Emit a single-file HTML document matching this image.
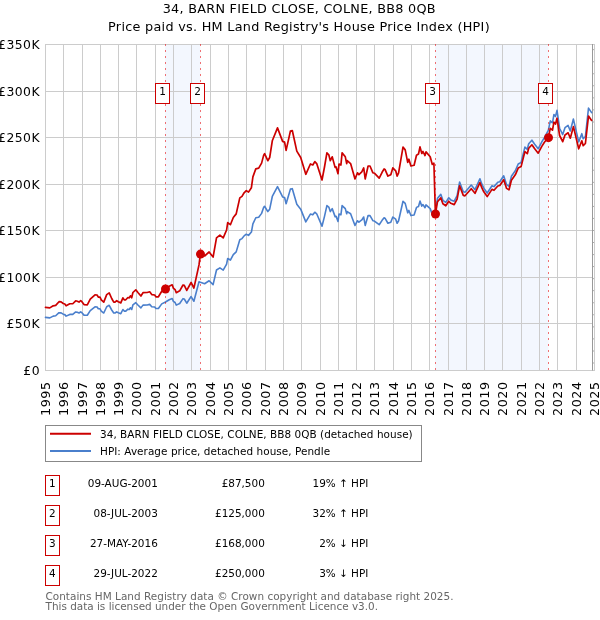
<!DOCTYPE html>
<html><head><meta charset="utf-8"><title>34, Barn Field Close, Colne - Price paid vs HPI</title>
<style>
html,body{margin:0;padding:0;background:#fff;width:600px;height:620px;overflow:hidden}
svg{display:block;font-family:"DejaVu Sans","Liberation Sans",sans-serif}
</style></head><body>
<svg width="600" height="620" viewBox="0 0 600 620">
<rect x="0" y="0" width="600" height="620" fill="#ffffff"/>
<rect x="165" y="44" width="35.5" height="326.5" fill="#f3f7fe"/>
<rect x="435" y="44" width="113.5" height="326.5" fill="#f3f7fe"/>
<path d="M45.5,44 V370.5 M63.5,44 V370.5 M82.5,44 V370.5 M100.5,44 V370.5 M118.5,44 V370.5 M136.5,44 V370.5 M155.5,44 V370.5 M173.5,44 V370.5 M191.5,44 V370.5 M210.5,44 V370.5 M228.5,44 V370.5 M246.5,44 V370.5 M265.5,44 V370.5 M283.5,44 V370.5 M301.5,44 V370.5 M320.5,44 V370.5 M338.5,44 V370.5 M356.5,44 V370.5 M374.5,44 V370.5 M393.5,44 V370.5 M411.5,44 V370.5 M429.5,44 V370.5 M448.5,44 V370.5 M466.5,44 V370.5 M484.5,44 V370.5 M502.5,44 V370.5 M521.5,44 V370.5 M539.5,44 V370.5 M557.5,44 V370.5 M576.5,44 V370.5 M594.5,44 V370.5 M45,44.5 H595 M45,91.5 H595 M45,137.5 H595 M45,184.5 H595 M45,230.5 H595 M45,277.5 H595 M45,323.5 H595 M45,370.5 H595" stroke="#cccccc" stroke-width="1" fill="none"/>
<rect x="592" y="45" width="2.5" height="325" fill="#ffffff"/>
<path d="M592.5,50.7 L594.5,48.7 M592.5,62.8 L594.5,60.8 M592.5,74.8 L594.5,72.8 M592.5,86.8 L594.5,84.8 M592.5,98.9 L594.5,96.9 M592.5,110.9 L594.5,108.9 M592.5,123.0 L594.5,121.0 M592.5,135.0 L594.5,133.0 M592.5,147.1 L594.5,145.1 M592.5,159.2 L594.5,157.2 M592.5,171.2 L594.5,169.2 M592.5,183.3 L594.5,181.3 M592.5,195.3 L594.5,193.3 M592.5,207.4 L594.5,205.4 M592.5,219.4 L594.5,217.4 M592.5,231.5 L594.5,229.5 M592.5,243.5 L594.5,241.5 M592.5,255.6 L594.5,253.6 M592.5,267.6 L594.5,265.6 M592.5,279.7 L594.5,277.7 M592.5,291.7 L594.5,289.7 M592.5,303.8 L594.5,301.8 M592.5,315.8 L594.5,313.8 M592.5,327.9 L594.5,325.9 M592.5,339.9 L594.5,337.9 M592.5,352.0 L594.5,350.0 M592.5,364.0 L594.5,362.0" stroke="#aaaaaa" stroke-width="1" fill="none"/>
<path d="M592.5,44 V370.5" stroke="#999999" stroke-width="1" fill="none"/>
<path d="M594.5,44 V370.5" stroke="#cccccc" stroke-width="1" fill="none"/>
<path d="M45.50,317.39 L49.80,317.89 L53.20,316.13 L55.70,315.79 L59.00,312.68 L61.10,312.85 L63.20,314.20 L64.80,314.62 L66.10,316.13 L69.80,314.41 L72.75,314.41 L75.70,311.93 L77.30,312.31 L79.00,313.02 L80.70,311.84 L81.90,312.68 L84.00,315.12 L87.30,315.29 L90.25,310.58 L95.00,306.89 L97.10,307.05 L98.30,308.82 L100.00,308.82 L101.25,311.09 L103.75,313.02 L106.70,306.72 L109.20,305.29 L111.70,310.00 L113.75,313.02 L115.00,313.02 L116.70,311.84 L118.30,312.77 L120.80,313.69 L122.90,309.49 L124.20,311.09 L125.80,311.09 L127.90,309.16 L129.20,309.49 L130.40,307.73 L131.70,309.49 L132.90,304.95 L135.80,302.68 L137.90,304.95 L140.90,307.89 L143.00,305.12 L147.20,304.95 L149.70,304.37 L151.75,306.72 L154.70,307.05 L155.90,308.57 L158.40,308.57 L161.75,303.90 L165.50,302.01 L169.25,299.70 L172.20,298.48 L173.40,301.42 L175.10,302.52 L176.30,305.12 L179.70,303.53 L183.00,298.65 L184.25,298.99 L186.75,303.19 L191.10,296.55 L193.90,301.26 L199.00,281.76 L200.40,282.32 L204.60,283.76 L209.10,280.73 L213.10,284.59 L216.50,270.05 L219.90,267.92 L223.20,270.05 L226.60,264.06 L227.70,258.45 L230.40,260.05 L233.30,254.59 L236.20,251.86 L239.80,239.74 L242.00,238.61 L244.10,235.88 L246.30,234.21 L248.50,235.35 L251.40,232.02 L252.90,223.83 L255.80,217.77 L258.70,217.17 L261.60,213.38 L263.70,207.32 L264.60,206.26 L267.80,211.56 L269.70,209.14 L272.30,196.48 L277.50,186.71 L282.60,196.94 L284.60,197.47 L286.10,203.76 L288.40,195.95 L290.40,189.14 L292.30,188.68 L296.80,204.29 L300.70,209.14 L305.80,221.86 L310.40,214.06 L312.80,214.82 L314.80,212.24 L316.70,213.76 L322.00,226.18 L324.50,216.33 L326.90,205.65 L328.80,207.09 L330.30,211.56 L332.20,208.61 L335.10,216.64 L336.10,216.33 L338.00,221.41 L339.00,214.06 L340.90,214.82 L342.10,205.65 L345.30,208.61 L346.70,213.76 L347.20,211.56 L350.60,213.76 L355.00,225.42 L357.50,220.73 L358.90,222.17 L361.80,219.97 L363.70,217.02 L365.20,225.42 L368.10,215.58 L370.00,215.58 L372.90,220.73 L374.40,221.03 L379.20,224.74 L382.10,220.35 L384.10,217.77 L385.00,218.15 L387.90,223.23 L390.80,222.17 L392.80,217.02 L395.70,219.21 L397.10,223.23 L398.60,220.73 L403.00,201.26 L405.20,203.38 L407.70,212.85 L408.90,210.42 L410.90,215.58 L414.10,214.97 L416.50,207.39 L418.50,206.48 L420.00,201.11 L421.80,206.11 L423.00,204.59 L425.00,207.70 L426.00,204.89 L430.20,208.61 L432.30,214.36 L433.90,213.45 L435.40,210.81 L437.50,198.26 L440.80,194.38 L442.90,200.35 L445.80,202.44 L448.75,197.80 L450.80,199.89 L454.20,201.21 L457.10,195.70 L459.60,182.03 L463.30,191.83 L465.00,192.23 L471.25,185.04 L475.00,189.68 L479.90,178.77 L481.90,184.17 L483.80,188.15 L487.20,193.05 L492.00,185.70 L494.00,186.62 L497.80,182.23 L499.80,181.72 L503.70,175.81 L506.60,184.68 L509.00,186.21 L511.40,176.32 L515.30,170.81 L518.20,163.97 L521.10,162.44 L524.90,147.13 L527.30,149.28 L528.70,143.77 L531.90,140.19 L534.50,143.97 L538.20,148.77 L541.80,141.83 L544.40,137.54 L548.30,130.45 L550.30,120.91 L552.50,122.77 L553.90,114.52 L555.50,116.38 L557.00,110.40 L559.60,128.23 L562.70,134.62 L565.00,127.72 L568.10,125.45 L570.30,131.02 L573.40,119.06 L578.70,141.94 L581.80,133.70 L583.20,138.75 L585.40,136.48 L588.50,108.13 L591.60,112.66" stroke="#4a7fcc" stroke-width="1.6" fill="none" stroke-linejoin="round" stroke-linecap="round"/>
<path d="M45.50,307.30 L49.80,307.90 L53.20,305.80 L55.70,305.40 L59.00,301.70 L61.10,301.90 L63.20,303.50 L64.80,304.00 L66.10,305.80 L69.80,303.75 L72.75,303.75 L75.70,300.80 L77.30,301.25 L79.00,302.10 L80.70,300.70 L81.90,301.70 L84.00,304.60 L87.30,304.80 L90.25,299.20 L95.00,294.80 L97.10,295.00 L98.30,297.10 L100.00,297.10 L101.25,299.80 L103.75,302.10 L106.70,294.60 L109.20,292.90 L111.70,298.50 L113.75,302.10 L115.00,302.10 L116.70,300.70 L118.30,301.80 L120.80,302.90 L122.90,297.90 L124.20,299.80 L125.80,299.80 L127.90,297.50 L129.20,297.90 L130.40,295.80 L131.70,297.90 L132.90,292.50 L135.80,289.80 L137.90,292.50 L140.90,296.00 L143.00,292.70 L147.20,292.50 L149.70,291.80 L151.75,294.60 L154.70,295.00 L155.90,296.80 L158.40,296.80 L161.75,291.25 L165.50,289.00 L169.25,286.25 L172.20,284.80 L173.40,288.30 L175.10,289.60 L176.30,292.70 L179.70,290.80 L183.00,285.00 L184.25,285.40 L186.75,290.40 L191.10,282.50 L193.90,288.10 L199.00,264.90 L200.40,254.10 L204.60,256.00 L209.10,252.00 L213.10,257.10 L216.50,237.90 L219.90,235.10 L223.20,237.90 L226.60,230.00 L227.70,222.60 L230.40,224.70 L233.30,217.50 L236.20,213.90 L239.80,197.90 L242.00,196.40 L244.10,192.80 L246.30,190.60 L248.50,192.10 L251.40,187.70 L252.90,176.90 L255.80,168.90 L258.70,168.10 L261.60,163.10 L263.70,155.10 L264.60,153.70 L267.80,160.70 L269.70,157.50 L272.30,140.80 L277.50,127.90 L282.60,141.40 L284.60,142.10 L286.10,150.40 L288.40,140.10 L290.40,131.10 L292.30,130.50 L296.80,151.10 L300.70,157.50 L305.80,174.30 L310.40,164.00 L312.80,165.00 L314.80,161.60 L316.70,163.60 L322.00,180.00 L324.50,167.00 L326.90,152.90 L328.80,154.80 L330.30,160.70 L332.20,156.80 L335.10,167.40 L336.10,167.00 L338.00,173.70 L339.00,164.00 L340.90,165.00 L342.10,152.90 L345.30,156.80 L346.70,163.60 L347.20,160.70 L350.60,163.60 L355.00,179.00 L357.50,172.80 L358.90,174.70 L361.80,171.80 L363.70,167.90 L365.20,179.00 L368.10,166.00 L370.00,166.00 L372.90,172.80 L374.40,173.20 L379.20,178.10 L382.10,172.30 L384.10,168.90 L385.00,169.40 L387.90,176.10 L390.80,174.70 L392.80,167.90 L395.70,170.80 L397.10,176.10 L398.60,172.80 L403.00,147.10 L405.20,149.90 L407.70,162.40 L408.90,159.20 L410.90,166.00 L414.10,165.20 L416.50,155.20 L418.50,154.00 L420.00,146.90 L421.80,153.50 L423.00,151.50 L425.00,155.60 L426.00,151.90 L430.20,156.80 L432.30,164.40 L433.90,163.20 L435.40,214.00 L437.50,201.70 L440.80,197.90 L442.90,203.75 L445.80,205.80 L448.75,201.25 L450.80,203.30 L454.20,204.60 L457.10,199.20 L459.60,185.80 L463.30,195.40 L465.00,195.80 L471.25,188.75 L475.00,193.30 L479.90,182.60 L481.90,187.90 L483.80,191.80 L487.20,196.60 L492.00,189.40 L494.00,190.30 L497.80,186.00 L499.80,185.50 L503.70,179.70 L506.60,188.40 L509.00,189.90 L511.40,180.20 L515.30,174.80 L518.20,168.10 L521.10,166.60 L524.90,151.60 L527.30,153.70 L528.70,148.30 L531.90,144.80 L534.50,148.50 L538.20,153.20 L541.80,146.40 L544.40,142.20 L548.30,137.65 L550.30,128.40 L552.50,130.20 L553.90,122.20 L555.50,124.00 L557.00,118.20 L559.60,135.50 L562.70,141.70 L565.00,135.00 L568.10,132.80 L570.30,138.20 L573.40,126.60 L578.70,148.80 L581.80,140.80 L583.20,145.70 L585.40,143.50 L588.50,116.00 L591.60,120.40" stroke="#cc0000" stroke-width="1.7" fill="none" stroke-linejoin="round" stroke-linecap="round"/>
<circle cx="165.5" cy="289.0" r="4.5" fill="#cc0000"/>
<circle cx="200.5" cy="254.1" r="4.5" fill="#cc0000"/>
<circle cx="435.5" cy="214.0" r="4.5" fill="#cc0000"/>
<circle cx="548.5" cy="137.65" r="4.5" fill="#cc0000"/>
<path d="M165.5,44 V370.5" stroke="#e80000" stroke-opacity="0.55" stroke-width="1" stroke-dasharray="2,4" fill="none"/>
<path d="M200.5,44 V370.5" stroke="#e80000" stroke-opacity="0.55" stroke-width="1" stroke-dasharray="2,4" fill="none"/>
<path d="M435.5,44 V370.5" stroke="#e80000" stroke-opacity="0.55" stroke-width="1" stroke-dasharray="2,4" fill="none"/>
<path d="M548.5,44 V370.5" stroke="#e80000" stroke-opacity="0.55" stroke-width="1" stroke-dasharray="2,4" fill="none"/>
<rect x="155.5" y="83.5" width="14" height="20" fill="#ffffff" stroke="#cc0000" stroke-width="1"/>
<text x="162.5" y="94.8" font-size="10.5" text-anchor="middle" fill="#000">1</text>
<rect x="190.5" y="83.5" width="14" height="20" fill="#ffffff" stroke="#cc0000" stroke-width="1"/>
<text x="197.5" y="94.8" font-size="10.5" text-anchor="middle" fill="#000">2</text>
<rect x="425.5" y="83.5" width="14" height="20" fill="#ffffff" stroke="#cc0000" stroke-width="1"/>
<text x="432.5" y="94.8" font-size="10.5" text-anchor="middle" fill="#000">3</text>
<rect x="538.5" y="83.5" width="14" height="20" fill="#ffffff" stroke="#cc0000" stroke-width="1"/>
<text x="545.5" y="94.8" font-size="10.5" text-anchor="middle" fill="#000">4</text>
<text x="40" y="48.8" font-size="12.4" letter-spacing="0.45" text-anchor="end" fill="#000">£350K</text>
<text x="40" y="95.8" font-size="12.4" letter-spacing="0.45" text-anchor="end" fill="#000">£300K</text>
<text x="40" y="141.8" font-size="12.4" letter-spacing="0.45" text-anchor="end" fill="#000">£250K</text>
<text x="40" y="188.8" font-size="12.4" letter-spacing="0.45" text-anchor="end" fill="#000">£200K</text>
<text x="40" y="234.8" font-size="12.4" letter-spacing="0.45" text-anchor="end" fill="#000">£150K</text>
<text x="40" y="281.8" font-size="12.4" letter-spacing="0.45" text-anchor="end" fill="#000">£100K</text>
<text x="40" y="327.8" font-size="12.4" letter-spacing="0.45" text-anchor="end" fill="#000">£50K</text>
<text x="40" y="374.8" font-size="12.4" letter-spacing="0.45" text-anchor="end" fill="#000">£0</text>
<text transform="translate(50.0,381.5) rotate(-90)" x="0" y="0" font-size="12.8" letter-spacing="0.45" text-anchor="end" fill="#000">1995</text>
<text transform="translate(68.0,381.5) rotate(-90)" x="0" y="0" font-size="12.8" letter-spacing="0.45" text-anchor="end" fill="#000">1996</text>
<text transform="translate(87.0,381.5) rotate(-90)" x="0" y="0" font-size="12.8" letter-spacing="0.45" text-anchor="end" fill="#000">1997</text>
<text transform="translate(105.0,381.5) rotate(-90)" x="0" y="0" font-size="12.8" letter-spacing="0.45" text-anchor="end" fill="#000">1998</text>
<text transform="translate(123.0,381.5) rotate(-90)" x="0" y="0" font-size="12.8" letter-spacing="0.45" text-anchor="end" fill="#000">1999</text>
<text transform="translate(141.0,381.5) rotate(-90)" x="0" y="0" font-size="12.8" letter-spacing="0.45" text-anchor="end" fill="#000">2000</text>
<text transform="translate(160.0,381.5) rotate(-90)" x="0" y="0" font-size="12.8" letter-spacing="0.45" text-anchor="end" fill="#000">2001</text>
<text transform="translate(178.0,381.5) rotate(-90)" x="0" y="0" font-size="12.8" letter-spacing="0.45" text-anchor="end" fill="#000">2002</text>
<text transform="translate(196.0,381.5) rotate(-90)" x="0" y="0" font-size="12.8" letter-spacing="0.45" text-anchor="end" fill="#000">2003</text>
<text transform="translate(215.0,381.5) rotate(-90)" x="0" y="0" font-size="12.8" letter-spacing="0.45" text-anchor="end" fill="#000">2004</text>
<text transform="translate(233.0,381.5) rotate(-90)" x="0" y="0" font-size="12.8" letter-spacing="0.45" text-anchor="end" fill="#000">2005</text>
<text transform="translate(251.0,381.5) rotate(-90)" x="0" y="0" font-size="12.8" letter-spacing="0.45" text-anchor="end" fill="#000">2006</text>
<text transform="translate(270.0,381.5) rotate(-90)" x="0" y="0" font-size="12.8" letter-spacing="0.45" text-anchor="end" fill="#000">2007</text>
<text transform="translate(288.0,381.5) rotate(-90)" x="0" y="0" font-size="12.8" letter-spacing="0.45" text-anchor="end" fill="#000">2008</text>
<text transform="translate(306.0,381.5) rotate(-90)" x="0" y="0" font-size="12.8" letter-spacing="0.45" text-anchor="end" fill="#000">2009</text>
<text transform="translate(325.0,381.5) rotate(-90)" x="0" y="0" font-size="12.8" letter-spacing="0.45" text-anchor="end" fill="#000">2010</text>
<text transform="translate(343.0,381.5) rotate(-90)" x="0" y="0" font-size="12.8" letter-spacing="0.45" text-anchor="end" fill="#000">2011</text>
<text transform="translate(361.0,381.5) rotate(-90)" x="0" y="0" font-size="12.8" letter-spacing="0.45" text-anchor="end" fill="#000">2012</text>
<text transform="translate(379.0,381.5) rotate(-90)" x="0" y="0" font-size="12.8" letter-spacing="0.45" text-anchor="end" fill="#000">2013</text>
<text transform="translate(398.0,381.5) rotate(-90)" x="0" y="0" font-size="12.8" letter-spacing="0.45" text-anchor="end" fill="#000">2014</text>
<text transform="translate(416.0,381.5) rotate(-90)" x="0" y="0" font-size="12.8" letter-spacing="0.45" text-anchor="end" fill="#000">2015</text>
<text transform="translate(434.0,381.5) rotate(-90)" x="0" y="0" font-size="12.8" letter-spacing="0.45" text-anchor="end" fill="#000">2016</text>
<text transform="translate(453.0,381.5) rotate(-90)" x="0" y="0" font-size="12.8" letter-spacing="0.45" text-anchor="end" fill="#000">2017</text>
<text transform="translate(471.0,381.5) rotate(-90)" x="0" y="0" font-size="12.8" letter-spacing="0.45" text-anchor="end" fill="#000">2018</text>
<text transform="translate(489.0,381.5) rotate(-90)" x="0" y="0" font-size="12.8" letter-spacing="0.45" text-anchor="end" fill="#000">2019</text>
<text transform="translate(507.0,381.5) rotate(-90)" x="0" y="0" font-size="12.8" letter-spacing="0.45" text-anchor="end" fill="#000">2020</text>
<text transform="translate(526.0,381.5) rotate(-90)" x="0" y="0" font-size="12.8" letter-spacing="0.45" text-anchor="end" fill="#000">2021</text>
<text transform="translate(544.0,381.5) rotate(-90)" x="0" y="0" font-size="12.8" letter-spacing="0.45" text-anchor="end" fill="#000">2022</text>
<text transform="translate(562.0,381.5) rotate(-90)" x="0" y="0" font-size="12.8" letter-spacing="0.45" text-anchor="end" fill="#000">2023</text>
<text transform="translate(581.0,381.5) rotate(-90)" x="0" y="0" font-size="12.8" letter-spacing="0.45" text-anchor="end" fill="#000">2024</text>
<text transform="translate(599.0,381.5) rotate(-90)" x="0" y="0" font-size="12.8" letter-spacing="0.45" text-anchor="end" fill="#000">2025</text>
<text x="299.3" y="12.7" font-size="12.8" letter-spacing="0.27" text-anchor="middle" fill="#000">34, BARN FIELD CLOSE, COLNE, BB8 0QB</text>
<text x="299.0" y="30.7" font-size="12.8" letter-spacing="0.28" text-anchor="middle" fill="#000">Price paid vs. HM Land Registry's House Price Index (HPI)</text>
<rect x="45.5" y="425.5" width="376" height="36" fill="#ffffff" stroke="#888888" stroke-width="1"/>
<path d="M50,433.7 H91" stroke="#cc0000" stroke-width="2"/>
<path d="M50,451.1 H91" stroke="#4a7fcc" stroke-width="2"/>
<text x="100.0" y="438.1" font-size="10.45" letter-spacing="0.05" fill="#000">34, BARN FIELD CLOSE, COLNE, BB8 0QB (detached house)</text>
<text x="100.0" y="455.0" font-size="10.45" letter-spacing="0.05" fill="#000">HPI: Average price, detached house, Pendle</text>
<rect x="45.5" y="475.5" width="14" height="20" fill="#ffffff" stroke="#cc0000" stroke-width="1"/>
<text x="52.4" y="487.2" font-size="10.45" text-anchor="middle" fill="#000">1</text>
<text x="157.8" y="487.2" font-size="10.45" text-anchor="end" fill="#000">09-AUG-2001</text>
<text x="264.8" y="487.2" font-size="10.45" text-anchor="end" fill="#000">£87,500</text>
<text x="368.3" y="487.2" font-size="10.45" text-anchor="end" fill="#000">19% ↑ HPI</text>
<rect x="45.5" y="505.5" width="14" height="20" fill="#ffffff" stroke="#cc0000" stroke-width="1"/>
<text x="52.4" y="517.2" font-size="10.45" text-anchor="middle" fill="#000">2</text>
<text x="157.8" y="517.2" font-size="10.45" text-anchor="end" fill="#000">08-JUL-2003</text>
<text x="264.8" y="517.2" font-size="10.45" text-anchor="end" fill="#000">£125,000</text>
<text x="368.3" y="517.2" font-size="10.45" text-anchor="end" fill="#000">32% ↑ HPI</text>
<rect x="45.5" y="535.5" width="14" height="20" fill="#ffffff" stroke="#cc0000" stroke-width="1"/>
<text x="52.4" y="547.2" font-size="10.45" text-anchor="middle" fill="#000">3</text>
<text x="157.8" y="547.2" font-size="10.45" text-anchor="end" fill="#000">27-MAY-2016</text>
<text x="264.8" y="547.2" font-size="10.45" text-anchor="end" fill="#000">£168,000</text>
<text x="368.3" y="547.2" font-size="10.45" text-anchor="end" fill="#000">2% ↓ HPI</text>
<rect x="45.5" y="565.5" width="14" height="20" fill="#ffffff" stroke="#cc0000" stroke-width="1"/>
<text x="52.4" y="577.2" font-size="10.45" text-anchor="middle" fill="#000">4</text>
<text x="157.8" y="577.2" font-size="10.45" text-anchor="end" fill="#000">29-JUL-2022</text>
<text x="264.8" y="577.2" font-size="10.45" text-anchor="end" fill="#000">£250,000</text>
<text x="368.3" y="577.2" font-size="10.45" text-anchor="end" fill="#000">3% ↓ HPI</text>
<text x="45.5" y="599.7" font-size="10.45" letter-spacing="0.028" fill="#666666">Contains HM Land Registry data © Crown copyright and database right 2025.</text>
<text x="45.5" y="609.7" font-size="10.45" fill="#666666">This data is licensed under the Open Government Licence v3.0.</text>
</svg>
</body></html>
